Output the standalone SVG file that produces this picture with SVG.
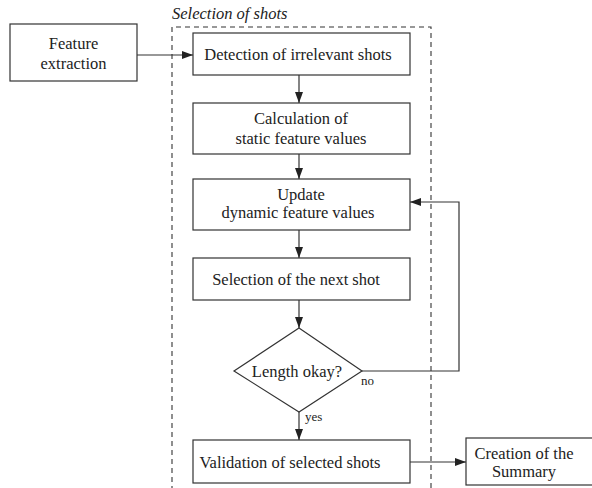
<svg xmlns="http://www.w3.org/2000/svg" width="592" height="488" viewBox="0 0 592 488">
<defs>
<marker id="ah" markerWidth="11" markerHeight="8" refX="11" refY="4" orient="auto" markerUnits="userSpaceOnUse">
<path d="M0,0 L11,4 L0,8 Z" fill="#222"/>
</marker>
<style>
.box{fill:#fff;stroke:#333;stroke-width:1.2}
.t{font-family:"Liberation Serif","Times New Roman",serif;font-size:16.5px;fill:#222;text-anchor:middle}
.s{font-family:"Liberation Serif","Times New Roman",serif;font-size:13px;fill:#222}
.c{fill:none;stroke:#333;stroke-width:1.2}
</style>
</defs>
<rect width="592" height="488" fill="#fff"/>
<g id="group-selection">
<path d="M172,500 L172,27 L431,27 L431,500" fill="none" stroke="#333" stroke-width="1.1" stroke-dasharray="5,4"/>
<text x="172" y="19" style="font-family:'Liberation Serif','Times New Roman',serif;font-size:16.5px;font-style:italic;fill:#222">Selection of shots</text>
</g>
<g id="connectors">
<line class="c" x1="137" y1="55" x2="193" y2="55" marker-end="url(#ah)"/>
<line class="c" x1="299" y1="75" x2="299" y2="103" marker-end="url(#ah)"/>
<line class="c" x1="299" y1="154" x2="299" y2="179" marker-end="url(#ah)"/>
<line class="c" x1="299" y1="230" x2="299" y2="258" marker-end="url(#ah)"/>
<line class="c" x1="299" y1="300" x2="299" y2="328" marker-end="url(#ah)"/>
<line class="c" x1="299" y1="412" x2="299" y2="440" marker-end="url(#ah)"/>
<polyline class="c" points="362,371 459,371 459,202 410,202" marker-end="url(#ah)"/>
<line class="c" x1="410" y1="462" x2="466" y2="462" marker-end="url(#ah)"/>
<text class="s" x="361" y="385">no</text>
<text class="s" x="305" y="421">yes</text>
</g>
<g id="feature-extraction">
<rect class="box" x="10" y="24" width="127" height="57"/>
<text class="t" x="73.5" y="49">Feature</text>
<text class="t" x="73.5" y="69">extraction</text>
</g>
<g id="detection">
<rect class="box" x="193" y="33" width="217" height="42"/>
<text class="t" x="298" y="60">Detection of irrelevant shots</text>
</g>
<g id="calculation">
<rect class="box" x="193" y="103" width="217" height="51"/>
<text class="t" x="301" y="124">Calculation of</text>
<text class="t" x="301" y="144">static feature values</text>
</g>
<g id="update">
<rect class="box" x="193" y="179" width="217" height="51"/>
<text class="t" x="301" y="200">Update</text>
<text class="t" x="298" y="218">dynamic feature values</text>
</g>
<g id="selection-next">
<rect class="box" x="193" y="258" width="217" height="42"/>
<text class="t" x="296" y="285">Selection of the next shot</text>
</g>
<g id="length-okay">
<polygon class="box" points="299,328 362,371 299,412 234,371"/>
<text class="t" x="297" y="377">Length okay?</text>
</g>
<g id="validation">
<rect class="box" x="193" y="440" width="217" height="43"/>
<text class="t" x="290" y="468">Validation of selected shots</text>
</g>
<g id="creation">
<rect class="box" x="466" y="438" width="132" height="47"/>
<text class="t" x="524" y="459">Creation of the</text>
<text class="t" x="524" y="477">Summary</text>
</g>
</svg>
